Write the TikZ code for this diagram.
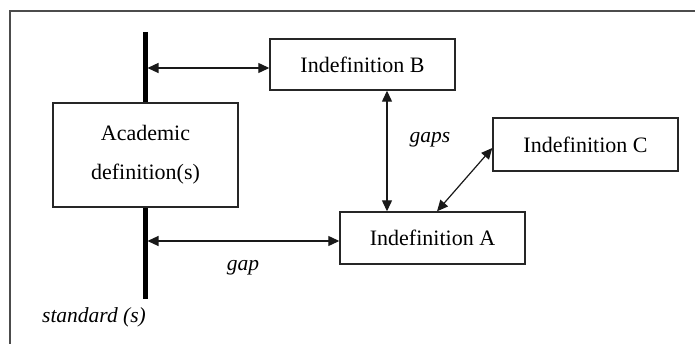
\documentclass[tikz,border=0pt]{standalone}
\usepackage{fontspec}
\setmainfont{Liberation Serif}
\usetikzlibrary{arrows.meta}
\begin{document}
\begin{tikzpicture}[x=1pt,y=-1pt,
  box/.style={draw=black!85,line width=1.4pt,fill=white,minimum width=185pt,inner sep=0pt,font=\fontsize{22}{39}\selectfont,align=center},
  conn/.style={{Triangle[length=11pt,width=10pt]}-{Triangle[length=11pt,width=10pt]},line width=1.2pt,black!90},
  lab/.style={font=\fontsize{21.5}{25}\selectfont\itshape,inner sep=0pt}]
\useasboundingbox (0,0) rectangle (695,344);
\fill[white] (0,0) rectangle (695,344);
% frame (left and top edges visible)
\draw[black!70,line width=1.2pt] (10,344) -- (10,11) -- (695,11);
% standard bar
\coordinate (bartop) at (145,32);
\coordinate (barbot) at (145,299);
\draw[line width=5pt] (bartop) -- (barbot);
% boxes
\node[box,minimum height=104pt] (acad) at (145.5,155) {Academic\\definition(s)};
\node[box,minimum height=51pt] (B) at (362.5,64.5) {Indefinition B};
\node[box,minimum height=53pt] (C) at (585.5,144.5) {Indefinition C};
\node[box,minimum height=52pt] (A) at (432.5,238) {Indefinition A};
% connectors
\coordinate (b1) at (147.5,68);
\coordinate (b2) at (147.5,241);
\coordinate (v) at (387,0);
\draw[conn] (b1) -- (b1 -| B.west);
\draw[conn] (b2) -- (b2 -| A.west);
\draw[conn] (B.south -| v) -- (A.north -| v);
\draw[conn] ([yshift=-3.5pt]C.west) -- ([xshift=4.5pt]A.north);
% labels
\node[lab] (gaps) at (430,140) {gaps};
\node[lab] (gap) at (243,268) {gap};
\node[lab] (std) at (94,317) {standard (s)};
\end{tikzpicture}
\end{document}
